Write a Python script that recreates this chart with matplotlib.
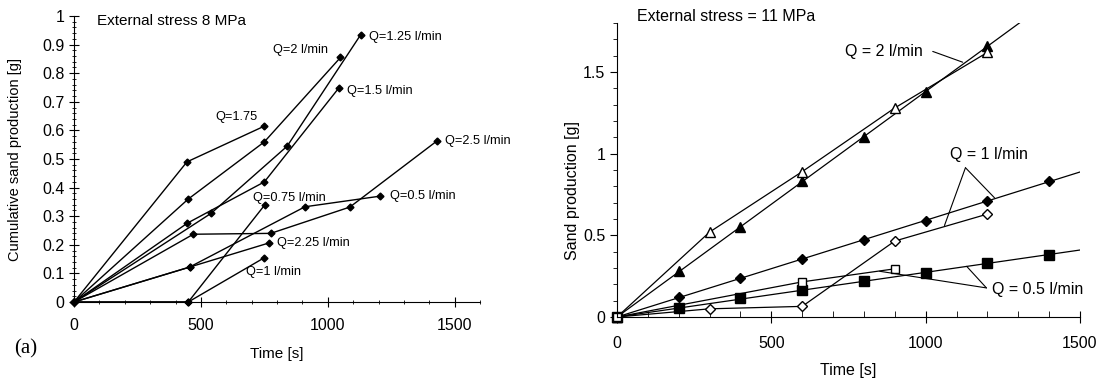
import matplotlib
matplotlib.use("Agg")
import matplotlib.pyplot as plt
import numpy as np
from matplotlib.ticker import MultipleLocator, FuncFormatter

plt.rcParams['font.family'] = ['Liberation Sans', 'DejaVu Sans']

# (a) external stress 8 MPa, cumulative sand production per flow rate
t_175 = [0, 445, 750];            s_175 = [0, 0.49, 0.615]
t_2 = [0, 450, 750, 1050];        s_2 = [0, 0.36, 0.56, 0.855]
t_125 = [0, 540, 840, 1130];      s_125 = [0, 0.31, 0.545, 0.935]
t_15 = [0, 447, 750, 1045];       s_15 = [0, 0.276, 0.42, 0.75]
t_25 = [0, 470, 775, 1087, 1430]; s_25 = [0, 0.237, 0.24, 0.332, 0.563]
t_05 = [0, 455, 910, 1205];       s_05 = [0, 0.122, 0.333, 0.37]
t_225 = [0, 455, 770];            s_225 = [0, 0.122, 0.207]
t_075 = [0, 450, 752];            s_075 = [0, 0, 0.34]
t_1 = [0, 450, 750];              s_1 = [0, 0, 0.155]

# (b) external stress 11 MPa
tf_tri = [0, 200, 400, 600, 800, 1000, 1200]
sf_tri = [0, 0.28, 0.55, 0.83, 1.10, 1.38, 1.66]
to_tri = [0, 300, 600, 900, 1200]
so_tri = [0, 0.52, 0.89, 1.28, 1.62]
tf_dia = [0, 200, 400, 600, 800, 1000, 1200, 1400]
sf_dia = [0, 0.123, 0.24, 0.355, 0.472, 0.589, 0.71, 0.83]
to_dia = [0, 300, 600, 900, 1200]
so_dia = [0, 0.05, 0.065, 0.465, 0.63]
tf_sq = [0, 200, 400, 600, 800, 1000, 1200, 1400]
sf_sq = [0, 0.055, 0.117, 0.165, 0.22, 0.27, 0.33, 0.38]
to_sq = [0, 600, 900]
so_sq = [0, 0.215, 0.295]

fig = plt.figure(figsize=(11.02, 3.81), dpi=100)
ax1 = fig.add_axes([0.0672, 0.2073, 0.3684, 0.7507])
ax2 = fig.add_axes([0.5599, 0.168, 0.4201, 0.7716])

for ax in (ax1, ax2):
    ax.spines['top'].set_visible(False)
    ax.spines['right'].set_visible(False)
    ax.spines['left'].set_linewidth(0.8)
    ax.spines['bottom'].set_linewidth(0.8)

# ---- left panel
kw = dict(color='black', lw=1.0, marker='D', ms=3.5, clip_on=False)
for t, s in [(t_175, s_175), (t_2, s_2), (t_125, s_125), (t_15, s_15), (t_25, s_25),
             (t_05, s_05), (t_225, s_225), (t_075, s_075), (t_1, s_1)]:
    ax1.plot(t, s, **kw)

ax1.set_xlim(0, 1600)
ax1.set_ylim(0, 1)
ax1.xaxis.set_major_locator(MultipleLocator(500))
ax1.xaxis.set_minor_locator(MultipleLocator(100))
ax1.yaxis.set_major_locator(MultipleLocator(0.1))
ax1.yaxis.set_minor_locator(MultipleLocator(0.02))
ax1.yaxis.set_major_formatter(FuncFormatter(lambda v, p: f"{v:g}"))
ax1.tick_params(which='major', direction='inout', length=7, width=0.8, labelsize=11.5)
ax1.tick_params(which='minor', direction='inout', length=3.5, width=0.6)
ax1.tick_params(axis='x', pad=8)
ax1.set_xlabel('Time [s]', fontsize=11, labelpad=10)
ax1.set_ylabel('Cumulative sand production [g]', fontsize=10.5)
ax1.yaxis.set_label_coords(-0.128, 0.5)

lab = dict(fontsize=9.2, va='center', ha='left')
ax1.text(90, 0.982, 'External stress 8 MPa', fontsize=11, va='center')
ax1.text(555, 0.647, 'Q=1.75', **lab)
ax1.text(783, 0.881, 'Q=2 l/min', **lab)
ax1.text(1161, 0.927, 'Q=1.25 l/min', **lab)
ax1.text(1075, 0.738, 'Q=1.5 l/min', **lab)
ax1.text(1461, 0.563, 'Q=2.5 l/min', **lab)
ax1.text(705, 0.364, 'Q=0.75 l/min', **lab)
ax1.text(1244, 0.371, 'Q=0.5 l/min', **lab)
ax1.text(799, 0.206, 'Q=2.25 l/min', **lab)
ax1.text(677, 0.105, 'Q=1 l/min', **lab)
fig.text(0.023, 0.084, '(a)', fontsize=15, family='Liberation Serif', va='center', ha='center')

# ---- right panel
def fit_line(t, s):
    t = np.asarray(t, float); s = np.asarray(s, float)
    k = (t * s).sum() / (t * t).sum()
    xx = np.array([0, 1500.0])
    return xx, k * xx

ax2.plot(tf_tri, sf_tri, ls='none', marker='^', ms=7, color='black', clip_on=False)
ax2.plot(*fit_line(tf_tri, sf_tri), color='black', lw=0.9)
ax2.plot(to_tri, so_tri, color='black', lw=0.9, marker='^', ms=7, mfc='white', clip_on=False)
ax2.plot(tf_dia, sf_dia, ls='none', marker='D', ms=5, color='black', clip_on=False)
ax2.plot(*fit_line(tf_dia, sf_dia), color='black', lw=0.9)
ax2.plot(to_dia, so_dia, color='black', lw=0.9, marker='D', ms=5, mfc='white', clip_on=False)
ax2.plot(tf_sq, sf_sq, ls='none', marker='s', ms=6.5, color='black', clip_on=False)
ax2.plot(*fit_line(tf_sq, sf_sq), color='black', lw=0.9)
ax2.plot(to_sq, so_sq, color='black', lw=0.9, marker='s', ms=6, mfc='white', clip_on=False)

ax2.set_xlim(0, 1500)
ax2.set_ylim(0, 1.8)
ax2.xaxis.set_major_locator(MultipleLocator(500))
ax2.xaxis.set_minor_locator(MultipleLocator(100))
ax2.yaxis.set_major_locator(MultipleLocator(0.5))
ax2.yaxis.set_minor_locator(MultipleLocator(0.1))
ax2.yaxis.set_major_formatter(FuncFormatter(lambda v, p: f"{v:g}"))
ax2.tick_params(axis='y', which='major', direction='out', length=5, width=0.8, labelsize=11.5)
ax2.tick_params(axis='y', which='minor', direction='out', length=3, width=0.6)
ax2.tick_params(axis='x', which='major', direction='inout', length=8, width=0.8, labelsize=11.5, pad=10)
ax2.tick_params(axis='x', which='minor', direction='in', length=4, width=0.6)
ax2.set_xlabel('Time [s]', fontsize=11.5, labelpad=8)
ax2.set_ylabel('Sand production [g]', fontsize=11.5)
ax2.yaxis.set_label_coords(-0.08, 0.43)

ax2.text(65, 1.84, 'External stress = 11 MPa', fontsize=11.5, va='center')
ax2.text(738, 1.626, 'Q = 2 l/min', fontsize=11.5, va='center')
ax2.text(1078, 0.994, 'Q = 1 l/min', fontsize=11.5, va='center')
ax2.text(1214, 0.166, 'Q = 0.5 l/min', fontsize=11.5, va='center')

lead = dict(arrowstyle='-', color='black', lw=0.8, shrinkA=0, shrinkB=0)
ax2.annotate('', xy=(1120, 1.56), xytext=(1023, 1.626), arrowprops=lead)
ax2.annotate('', xy=(1061, 0.56), xytext=(1129, 0.914), arrowprops=lead)
ax2.annotate('', xy=(1223, 0.73), xytext=(1129, 0.914), arrowprops=lead)
ax2.annotate('', xy=(851, 0.28), xytext=(1197, 0.178), arrowprops=lead)
ax2.annotate('', xy=(1133, 0.31), xytext=(1197, 0.178), arrowprops=lead)

fig.savefig('out.png', dpi=100)
